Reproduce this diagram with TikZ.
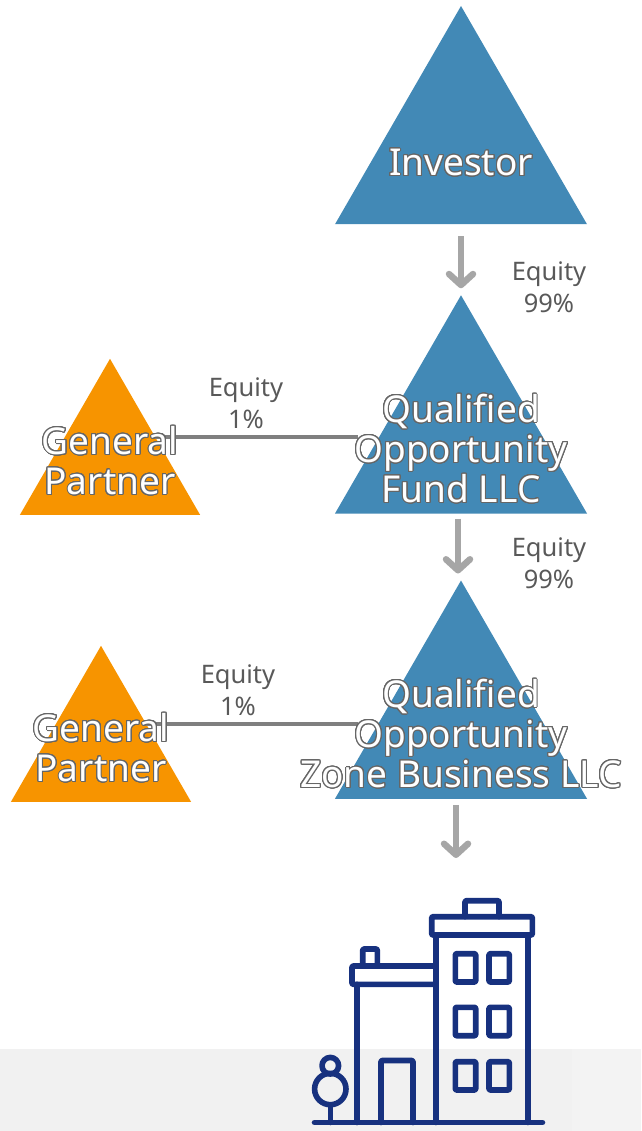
\documentclass[tikz,border=0pt]{standalone}
\usepackage{fontspec}
\setmainfont{Noto Sans}
\usepackage[copies]{contour}
\usetikzlibrary{shapes,arrows.meta,positioning}
\definecolor{fundblue}{HTML}{4289B6}
\definecolor{partnerorange}{HTML}{F79400}
\definecolor{arrowgray}{HTML}{A6A6A6}
\definecolor{linegray}{HTML}{7F7F7F}
\definecolor{labelgray}{HTML}{595959}
\definecolor{outlinegray}{HTML}{666666}
\definecolor{buildingblue}{HTML}{17317F}
\definecolor{bandleft}{HTML}{F1F1F1}
\definecolor{bandright}{HTML}{F3F3F3}
\contourlength{1pt}
\contournumber{24}
\newcommand{\Hollow}[1]{\contour{outlinegray}{#1}}

\begin{document}
\begin{tikzpicture}[x=1pt,y=-1pt,% List of styles applied to all
		every node/.style={align=center,inner sep=0pt,outer sep=0pt},
		bigtri/.style={regular polygon,regular polygon sides=3,fill=fundblue,minimum size=291pt},
		smalltri/.style={regular polygon,regular polygon sides=3,fill=partnerorange,minimum size=208pt},
		trilabel/.style={text=white,font=\fontsize{37}{40}\selectfont},
		equitylabel/.style={text=labelgray,font=\fontsize{25.5}{32}\selectfont},
		flowarrow/.style={-{Straight Barb[round,length=11pt,width=24pt]},draw=arrowgray,line width=6.5pt},
		holdline/.style={draw=linegray,line width=4.5pt},
		buildingline/.style={draw=buildingblue,line width=5.6pt,line join=round,line cap=round}
	]
	\useasboundingbox (0,0) rectangle (641,1131);
	\fill[bandleft] (0,1049) rectangle (572,1131);
	\fill[bandright] (572,1049) rectangle (641,1131);

	\node[bigtri](investor) at (461,151.5){};
	\node[bigtri](qof)[below=71pt of investor.side 2]{};
	\node[bigtri](qozb)[below=67pt of qof.side 2]{};
	\node[smalltri](gpa) at (110,462.8){};
	\node[smalltri](gpb) at (101,749.8){};
	\coordinate (bldg) at (456,858);

	\draw[holdline] (gpa.side 3) -- ([xshift=-103pt]gpa.side 3 -| qof.center);
	\draw[holdline] (gpb.side 3) -- ([xshift=-103pt]gpb.side 3 -| qozb.center);

	\node[trilabel](investorlabel) at (461,163){\Hollow{Investor}};
	\node[trilabel](qoflabel) at (461,449){\Hollow{Qualified}\\\Hollow{Opportunity}\\\Hollow{Fund LLC}};
	\node[trilabel](qozblabel) at (461,734){\Hollow{Qualified}\\\Hollow{Opportunity}\\\Hollow{Zone Business LLC}};
	\node[trilabel](gpalabel) at (110,461){\Hollow{General}\\\Hollow{Partner}};
	\node[trilabel](gpblabel) at (101,748){\Hollow{General}\\\Hollow{Partner}};

	\node[equitylabel](eqtop) at (549,287){Equity\\99\%};
	\node[equitylabel](eqmid) at (549,563){Equity\\99\%};
	\node[equitylabel](eqgpa) at (246,403){Equity\\1\%};
	\node[equitylabel](eqgpb) at (238,690){Equity\\1\%};

	\draw[flowarrow,shorten <=12pt,shorten >=7pt] (investor.side 2) -- (qof.corner 1);
	\draw[flowarrow,shorten <=5pt,shorten >=7pt] ([xshift=-3pt]qof.side 2) -- ([xshift=-3pt]qof.side 2 |- qozb.corner 1);
	\draw[flowarrow,shorten <=6pt] ([xshift=-5pt]qozb.side 2) -- (bldg);

	% building, ground line first
	\draw[buildingline] (314.5,1122.5) -- (542.5,1122.5);
	\draw[buildingline] (435.7,935) -- (435.7,1122.5);
	\draw[buildingline] (527.7,935) -- (527.7,1122.5);
	\draw[buildingline] (357,984.3) -- (357,1122.5);
	\draw[buildingline,rounded corners=1pt] (431.7,916.7) rectangle (532.3,935);
	\draw[buildingline,rounded corners=1pt] (465,916.7) -- (465,900.7) -- (499,900.7) -- (499,916.7);
	\draw[buildingline,rounded corners=1pt] (435.7,966) -- (352,966) -- (352,984.3) -- (435.7,984.3);
	\draw[buildingline,rounded corners=1pt] (362.7,966) -- (362.7,949) -- (377.3,949) -- (377.3,966);
	\draw[buildingline,rounded corners=1pt] (381,1122.5) -- (381,1060.5) -- (413,1060.5) -- (413,1122.5);
	\draw[buildingline,rounded corners=1pt]
	(455.3,953.7) rectangle (475.7,982)
	(489,953.7) rectangle (509.3,982)
	(455.3,1007.3) rectangle (475.7,1035.7)
	(489,1007.3) rectangle (509.3,1035.7)
	(455.3,1061.7) rectangle (475.7,1090)
	(489,1061.7) rectangle (509.3,1090);
	% tree
	\draw[buildingline] (330.3,1065.7) circle (8.3pt);
	\draw[buildingline] (330.3,1089) circle (15.7pt);
	\draw[buildingline] (330.3,1105) -- (330.3,1122.5);
\end{tikzpicture}
\end{document}
